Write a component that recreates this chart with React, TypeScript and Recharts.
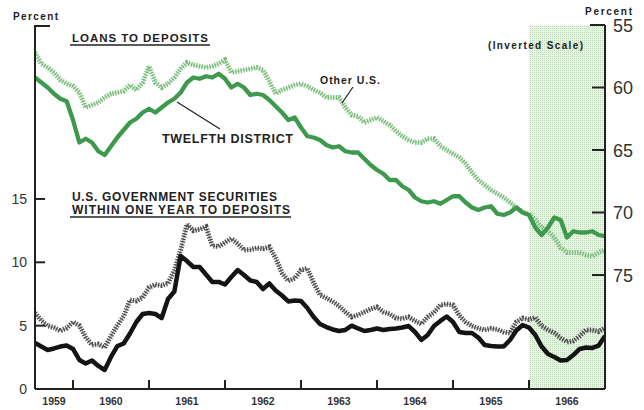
import React from 'react';
import { LineChart, Line, XAxis, YAxis, ReferenceArea } from 'recharts';

// Monthly observations, July 1959 through the end of 1966
const START = 1959.5;
const monthIndex = Array.from({ length: 91 }, (_, i) => i);
const months = monthIndex.map((i) => +(START + i / 12).toFixed(4));

// Loans to deposits (percent, inverted right scale)
const loansTwelfth = [
  59.2, 59.6, 60.0, 60.5, 60.9, 61.1, 62.6, 64.4, 64.1, 64.4,
  65.1, 65.4, 64.7, 64.0, 63.4, 62.8, 62.5, 62.0, 61.7, 62.0,
  61.6, 61.2, 60.9, 60.4, 59.6, 59.2, 59.3, 59.1, 59.2, 58.9,
  59.3, 60.0, 59.7, 60.0, 60.6, 60.5, 60.6, 61.0, 61.5, 62.0,
  62.6, 62.4, 63.2, 63.9, 64.0, 64.2, 64.6, 64.8, 64.7, 65.1,
  65.2, 65.2, 65.7, 66.2, 66.6, 66.9, 67.4, 67.4, 67.9, 68.2,
  68.8, 69.1, 69.2, 69.1, 69.3, 69.0, 68.7, 68.7, 69.2, 69.6,
  69.8, 69.6, 69.5, 70.1, 70.2, 70.0, 69.6, 70.0, 70.2, 71.2,
  71.8, 71.2, 70.4, 70.6, 72.0, 71.5, 71.6, 71.6, 71.5, 71.8,
  71.9,
];
const loansOther = [
  57.2, 58.1, 58.4, 58.8, 59.4, 59.7, 59.9, 60.4, 61.6, 61.4,
  61.2, 60.8, 60.5, 60.4, 60.3, 59.8, 60.2, 59.6, 58.3, 59.6,
  60.0, 59.7, 59.2, 58.5, 58.0, 58.2, 58.3, 58.4, 58.3, 58.1,
  57.8, 58.8, 58.7, 58.6, 58.5, 58.4, 58.6, 59.5, 60.5, 60.2,
  60.0, 59.8, 59.7, 59.9, 60.2, 60.4, 60.8, 60.8, 60.8, 61.6,
  62.2, 62.3, 62.8, 62.6, 62.4, 62.7, 63.0, 63.5, 63.9, 64.2,
  64.4, 64.4, 64.1, 64.1, 64.7, 65.0, 65.3, 65.6, 66.1, 66.8,
  67.4, 67.8, 68.2, 68.5, 68.8, 69.2, 69.6, 70.0, 70.1, 70.6,
  71.2, 71.5, 72.0, 72.8, 73.2, 73.2, 73.2, 73.4, 73.5, 73.2,
  73.0,
];

// U.S. Government securities within one year to deposits (percent, left scale)
const secTwelfth = [
  3.63, 3.35, 3.08, 3.2, 3.35, 3.43, 3.16, 2.29, 2.01, 2.25,
  1.82, 1.5, 2.53, 3.39, 3.59, 4.38, 5.29, 5.92, 6.0, 5.92,
  5.6, 7.1, 7.69, 10.5, 10.1, 9.63, 9.63, 9.04, 8.45, 8.45,
  8.25, 8.84, 9.39, 9.0, 8.56, 8.45, 7.89, 8.33, 7.77, 7.38,
  6.91, 6.99, 6.95, 6.39, 5.68, 5.13, 4.89, 4.7, 4.58, 4.66,
  5.0, 4.78, 4.58, 4.66, 4.78, 4.66, 4.74, 4.78, 4.85, 4.97,
  4.5, 3.87, 4.26, 4.97, 5.37, 5.72, 5.29, 4.5, 4.42, 4.42,
  4.06, 3.47, 3.39, 3.35, 3.35, 3.87, 4.62, 5.05, 4.85, 4.26,
  3.35, 2.76, 2.53, 2.25, 2.29, 2.68, 3.16, 3.28, 3.24, 3.43,
  4.18,
];
const secOther = [
  6.0, 5.41, 4.99, 4.84, 4.58, 4.81, 5.29, 5.01, 4.1, 3.47,
  3.55, 3.28, 4.18, 5.01, 5.76, 7.02, 6.95, 7.22, 8.01, 8.25,
  8.17, 8.33, 9.35, 10.97, 13.0, 12.5, 12.6, 12.8, 11.29, 11.25,
  11.56, 11.88, 11.48, 10.97, 11.01, 11.13, 11.07, 11.21, 10.34, 9.16,
  8.52, 8.72, 9.39, 9.51, 8.37, 7.42, 7.18, 6.91, 6.55, 6.08,
  5.68, 5.84, 6.08, 6.31, 6.47, 6.08, 5.92, 5.6, 5.56, 5.68,
  5.37, 5.13, 5.68, 6.04, 6.63, 6.71, 6.63, 5.8, 5.29, 4.97,
  4.78, 4.66, 4.78, 4.7, 4.5, 4.42, 5.29, 5.6, 5.49, 5.64,
  4.97, 4.66, 4.42, 4.03, 3.71, 3.79, 4.18, 4.66, 4.66, 4.54,
  4.81,
];

// Year boundaries (tick marks) and year-label centres
const xTicks = [
  1959.75, 1960, 1960.5, 1961, 1961.5, 1962, 1962.5, 1963, 1963.5,
  1964, 1964.5, 1965, 1965.5, 1966, 1966.5,
];
const leftTicks = [0, 5, 10, 15];
const rightTicks = [55, 60, 65, 70, 75];

const data = months.map((t, i) => ({
  t,
  loansTwelfth: loansTwelfth[i],
  loansOther: loansOther[i],
  secTwelfth: secTwelfth[i],
  secOther: secOther[i],
}));

const FONT = '"Liberation Sans", Arial, sans-serif';
const INK = '#222';

const XTick = (props: any) => {
  const { x, y, payload } = props;
  const v = payload.value as number;
  if (Number.isInteger(v)) {
    return <line x1={x} x2={x} y1={y} y2={y - 9} stroke={INK} strokeWidth={2} />;
  }
  return (
    <text x={x} y={y + 16} textAnchor="middle" fontSize={10.5} fontWeight="bold" fill="#333" fontFamily={FONT}>
      {Math.floor(v)}
    </text>
  );
};

const LeftTick = (props: any) => {
  const { x, y, payload } = props;
  return (
    <g>
      <line x1={x} x2={x + 10} y1={y} y2={y} stroke={INK} strokeWidth={2} />
      <text x={x - 8} y={y + 5} textAnchor="end" fontSize={14} fill="#333" fontFamily={FONT}>
        {payload.value}
      </text>
    </g>
  );
};

const RightTick = (props: any) => {
  const { x, y, payload } = props;
  return (
    <g>
      <line x1={x - 13} x2={x} y1={y} y2={y} stroke={INK} strokeWidth={2} />
      <text x={x + 8} y={y + 6.5} textAnchor="start" fontSize={18} fill="#333" fontFamily={FONT}>
        {payload.value}
      </text>
    </g>
  );
};

export default function App() {
  return (
    <div style={{ position: 'absolute', left: 0, top: 0, width: 644, height: 410, background: '#fff' }}>
      <svg width={0} height={0} style={{ position: 'absolute' }}>
        <defs>
          <pattern id="dots" width="2" height="2" patternUnits="userSpaceOnUse">
            <rect width="2" height="2" fill="#e9f3e6" />
            <rect x="0" y="0" width="1" height="1" fill="#bcdcb6" />
          </pattern>
        </defs>
      </svg>
      <LineChart
        width={644}
        height={410}
        data={data}
        margin={{ top: 25, right: 0, bottom: 0, left: 0 }}
        style={{ position: 'absolute', left: 0, top: 0 }}
      >
        <XAxis
          dataKey="t"
          type="number"
          domain={[1959.5, 1967]}
          ticks={xTicks}
          interval={0}
          tick={XTick}
          tickLine={false}
          tickSize={0}
          tickMargin={0}
          height={21}
          axisLine={{ stroke: INK, strokeWidth: 2 }}
          allowDataOverflow
        />
        <YAxis
          yAxisId="left"
          domain={[0, 28.73]}
          ticks={leftTicks}
          interval={0}
          tick={LeftTick}
          tickLine={false}
          tickSize={0}
          tickMargin={0}
          width={35}
          axisLine={{ stroke: INK, strokeWidth: 2 }}
          allowDataOverflow
        />
        <YAxis
          yAxisId="right"
          orientation="right"
          reversed
          domain={[55, 84.12]}
          ticks={rightTicks}
          interval={0}
          tick={RightTick}
          tickLine={false}
          tickSize={0}
          tickMargin={0}
          width={39}
          axisLine={{ stroke: INK, strokeWidth: 2 }}
          allowDataOverflow
        />
        <ReferenceArea yAxisId="right" x1={1966} x2={1967} fill="url(#dots)" fillOpacity={1} stroke="none" ifOverflow="visible" />

        {/* Other U.S. loans: hatched light green */}
        <Line yAxisId="right" dataKey="loansOther" type="linear" stroke="#c3e2c0" strokeWidth={1.6} dot={false} activeDot={false} isAnimationActive={false} />
        <Line yAxisId="right" dataKey="loansOther" type="linear" stroke="#78bb7a" strokeWidth={5} strokeDasharray="1.3 1.4" dot={false} activeDot={false} isAnimationActive={false} />
        {/* Twelfth District loans */}
        <Line yAxisId="right" dataKey="loansTwelfth" type="linear" stroke="#3d9a4d" strokeWidth={4.3} strokeLinejoin="round" dot={false} activeDot={false} isAnimationActive={false} />

        {/* Other U.S. securities: hatched gray */}
        <Line yAxisId="left" dataKey="secOther" type="linear" stroke="#b0b0b0" strokeWidth={1.6} dot={false} activeDot={false} isAnimationActive={false} />
        <Line yAxisId="left" dataKey="secOther" type="linear" stroke="#4a4a4a" strokeWidth={5} strokeDasharray="1.3 1.4" dot={false} activeDot={false} isAnimationActive={false} />
        {/* Twelfth District securities */}
        <Line yAxisId="left" dataKey="secTwelfth" type="linear" stroke="#141414" strokeWidth={4.5} strokeLinejoin="round" dot={false} activeDot={false} isAnimationActive={false} />
      </LineChart>

      <svg width={644} height={410} style={{ position: 'absolute', left: 0, top: 0, pointerEvents: 'none' }} fontFamily={FONT}>
        <line x1={35} x2={50} y1={26} y2={26} stroke={INK} strokeWidth={2} />
        <line x1={590} x2={605} y1={25} y2={25} stroke={INK} strokeWidth={2} />

        <text x={13} y={20} fontSize={10} fontWeight="bold" fill={INK} textLength={45} lengthAdjust="spacing">Percent</text>
        <text x={585} y={15} fontSize={10} fontWeight="bold" fill={INK} textLength={47} lengthAdjust="spacing">Percent</text>

        <text x={72} y={42} fontSize={11.5} fontWeight="bold" fill={INK} textLength={136} lengthAdjust="spacing">LOANS TO DEPOSITS</text>
        <line x1={70} x2={210} y1={45} y2={45} stroke={INK} strokeWidth={1.5} />

        <text x={488} y={49} fontSize={10} fontWeight="bold" fill={INK} textLength={95} lengthAdjust="spacing">(Inverted Scale)</text>

        <text x={320} y={84} fontSize={10.5} fontWeight="bold" fill={INK} textLength={60} lengthAdjust="spacing">Other U.S.</text>
        <line x1={353} y1={87} x2={342} y2={103} stroke={INK} strokeWidth={1.3} />

        <text x={162} y={143} fontSize={12.5} fontWeight="bold" fill={INK} textLength={131} lengthAdjust="spacing">TWELFTH DISTRICT</text>
        <line x1={177} y1={102} x2={220} y2={129} stroke={INK} strokeWidth={1.3} />

        <text x={72} y={201} fontSize={12} fontWeight="bold" fill={INK} textLength={205} lengthAdjust="spacing">U.S. GOVERNMENT SECURITIES</text>
        <text x={72} y={214} fontSize={12} fontWeight="bold" fill={INK} textLength={218} lengthAdjust="spacing">WITHIN ONE YEAR TO DEPOSITS</text>
        <line x1={70} x2={291} y1={217} y2={217} stroke={INK} strokeWidth={1.5} />
      </svg>
    </div>
  );
}
